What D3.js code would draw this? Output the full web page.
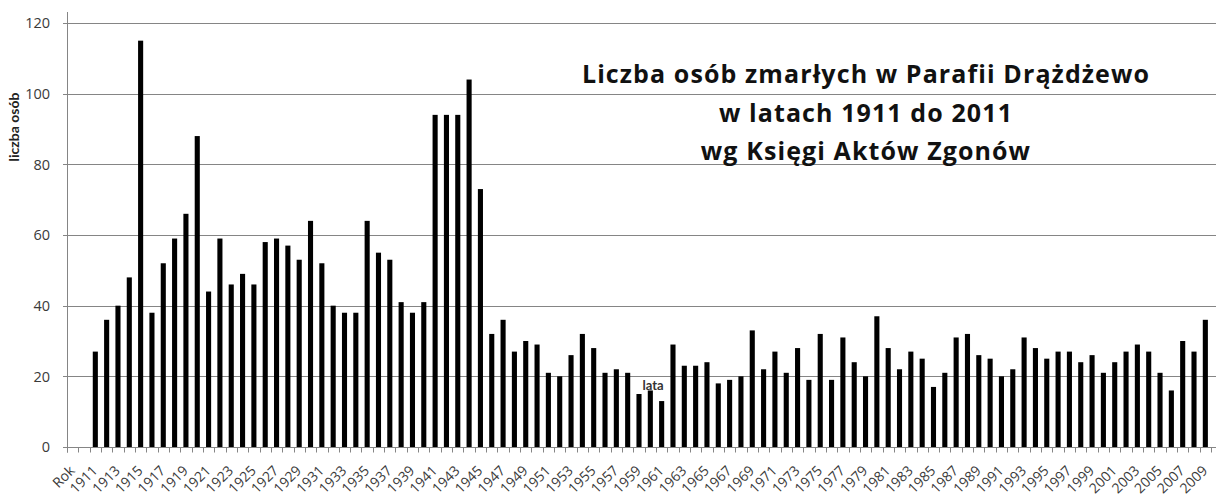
<!DOCTYPE html>
<html>
<head>
<meta charset="utf-8">
<script src="https://cdn.jsdelivr.net/npm/d3@7"></script>
<style>
  body { margin: 0; background: #fff; }
  svg { display: block; }
</style>
</head>
<body>
<svg id="chart"></svg>
<script>
// categories: header cell, empty row, then years
var years = d3.range(1911, 2010);
var categories = ["Rok", ""].concat(years.map(String));

// deaths per year 1911..2009
var deaths = [
  27, 36, 40, 48, 115, 38, 52, 59, 66, 88,
  44, 59, 46, 49, 46, 58, 59, 57, 53, 64,
  52, 40, 38, 38, 64, 55, 53, 41, 38, 41,
  94, 94, 94, 104, 73, 32, 36, 27, 30, 29,
  21, 20, 26, 32, 28, 21, 22, 21, 15, 16,
  13, 29, 23, 23, 24, 18, 19, 20, 33, 22,
  27, 21, 28, 19, 32, 19, 31, 24, 20, 37,
  28, 22, 27, 25, 17, 21, 31, 32, 26, 25,
  20, 22, 31, 28, 25, 27, 27, 24, 26, 21,
  24, 27, 29, 27, 21, 16, 30, 27, 36
];

var yTicks = [0, 20, 40, 60, 80, 100, 120];
var titleLines = [
  "Liczba osób zmarłych w Parafii Drążdżewo",
  "w latach 1911 do 2011",
  "wg Księgi Aktów Zgonów"
];

var width = 1216, height = 504;
var margin = { top: 23, right: 5, bottom: 57, left: 67 };

var svg = d3.select("#chart")
  .attr("width", width)
  .attr("height", height);

var x = d3.scaleBand()
  .domain(categories)
  .range([margin.left, width - margin.right])
  .paddingInner(0.55)
  .paddingOuter(0.275);

var xb = d3.scaleBand()
  .domain(categories)
  .range([margin.left, width - margin.right]);

var y = d3.scaleLinear()
  .domain([0, 120])
  .range([height - margin.bottom, margin.top]);

var y0 = Math.round(y(0)) + 0.5;

// gridlines
svg.append("g")
  .selectAll("line")
  .data(yTicks)
  .join("line")
  .attr("x1", margin.left - 4)
  .attr("x2", width)
  .attr("y1", d => Math.round(y(d)) + 0.5)
  .attr("y2", d => Math.round(y(d)) + 0.5)
  .attr("stroke", "#858585")
  .attr("stroke-width", 1);

// y tick labels
svg.append("g")
  .selectAll("text")
  .data(yTicks)
  .join("text")
  .attr("x", 50)
  .attr("y", d => y(d))
  .attr("dy", "0.36em")
  .attr("text-anchor", "end")
  .style("font-family", "Open Sans, sans-serif")
  .style("font-size", "14.5px")
  .style("fill", "#3a3a3a")
  .text(d => d);

// y axis line
svg.append("line")
  .attr("x1", margin.left + 0.5)
  .attr("x2", margin.left + 0.5)
  .attr("y1", 12)
  .attr("y2", y0 + 5)
  .attr("stroke", "#858585");

// bars
var barData = years.map(function (yr, i) { return { cat: String(yr), value: deaths[i] }; });

svg.append("g")
  .selectAll("rect")
  .data(barData)
  .join("rect")
  .attr("x", d => x(d.cat))
  .attr("y", d => y(d.value))
  .attr("width", x.bandwidth())
  .attr("height", d => y(0) - y(d.value))
  .attr("fill", "#000");

// x axis line
svg.append("line")
  .attr("x1", margin.left)
  .attr("x2", width - margin.right)
  .attr("y1", y0)
  .attr("y2", y0)
  .attr("stroke", "#858585");

// tick marks at band boundaries
var bounds = d3.range(categories.length + 1);
svg.append("g")
  .selectAll("line")
  .data(bounds)
  .join("line")
  .attr("x1", i => Math.round(margin.left + i * xb.step()) + 0.5)
  .attr("x2", i => Math.round(margin.left + i * xb.step()) + 0.5)
  .attr("y1", y0)
  .attr("y2", y0 + 5)
  .attr("stroke", "#858585");

// x tick labels, every second category, rotated 45 degrees
var shown = categories.filter((d, i) => i % 2 === 0);
svg.append("g")
  .selectAll("text")
  .data(shown)
  .join("text")
  .attr("x", d => xb(d) + xb.bandwidth() / 2 + 3)
  .attr("y", y0 + 24)
  .attr("transform", d => "rotate(-45," + (xb(d) + xb.bandwidth() / 2 + 3) + "," + (y0 + 24) + ")")
  .attr("text-anchor", "end")
  .style("font-family", "Open Sans, sans-serif")
  .style("font-size", "14px")
  .style("fill", "#3a3a3a")
  .text(d => d);

// axis titles
svg.append("text")
  .attr("transform", "translate(19,127) rotate(-90)")
  .attr("text-anchor", "middle")
  .style("font-family", "Lato, sans-serif")
  .style("font-weight", "bold")
  .style("font-size", "14px")
  .style("fill", "#222")
  .text("liczba osób");

svg.append("text")
  .attr("x", 653)
  .attr("y", 390)
  .attr("text-anchor", "middle")
  .style("font-family", "Lato, sans-serif")
  .style("font-weight", "bold")
  .style("font-size", "13px")
  .style("fill", "#333")
  .text("lata");

// chart title
svg.append("g")
  .selectAll("text")
  .data(titleLines)
  .join("text")
  .attr("x", 866)
  .attr("y", (d, i) => 83 + i * 38.5)
  .attr("text-anchor", "middle")
  .style("font-family", "Open Sans, sans-serif")
  .style("font-weight", "bold")
  .style("font-size", "25px")
  .style("letter-spacing", "1.1px")
  .style("fill", "#111")
  .text(d => d);
</script>
</body>
</html>
